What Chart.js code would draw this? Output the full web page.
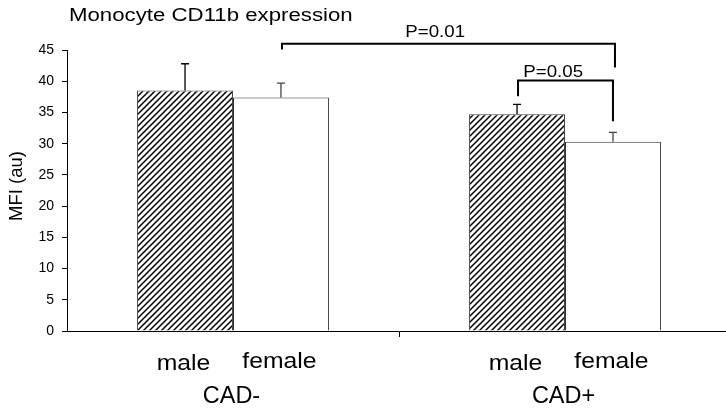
<!DOCTYPE html>
<html>
<head>
<meta charset="utf-8">
<script src="https://cdn.jsdelivr.net/npm/chart.js@4.4.1/dist/chart.umd.min.js"></script>
<style>
  html, body { margin: 0; padding: 0; background: #fff; overflow: hidden; }
  #wrap { position: relative; width: 731px; height: 411px; }
</style>
</head>
<body>
<div id="wrap"><canvas id="c"></canvas></div>
<script>
// ---- data ----
const categories = ['CAD-', 'CAD+'];
const seriesNames = ['male', 'female'];
const maleValues = [38.5, 34.7];
const femaleValues = [37.4, 30.3];
const maleErrors = [4.3, 1.6];
const femaleErrors = [2.3, 1.5];
const yTickValues = [0, 5, 10, 15, 20, 25, 30, 35, 40, 45];
const chartTitle = 'Monocyte CD11b expression';
const yAxisTitle = 'MFI (au)';
// significance brackets: [datasetIndex, categoryIndex] endpoints and heights (in data units)
const bracketLabels = ['P=0.01', 'P=0.05'];
const bracketFrom = [[1, 0], [0, 1]];
const bracketTo = [[1, 1], [1, 1]];
const bracketTopValues = [46.0, 40.1];
const bracketLeftEndValues = [45.1, 37.6];
const bracketRightEndValues = [42.2, 33.6];

const FONT = '"Liberation Sans", Arial, sans-serif';

// hatch pattern
function makeHatch() {
  const s = 6;
  const c = document.createElement('canvas');
  c.width = s; c.height = s;
  const g = c.getContext('2d');
  g.fillStyle = '#fff';
  g.fillRect(0, 0, s, s);
  g.strokeStyle = '#000';
  g.lineWidth = 1.5;
  g.beginPath();
  g.moveTo(0, s); g.lineTo(s, 0);
  g.moveTo(-1, 1); g.lineTo(1, -1);
  g.moveTo(s - 1, s + 1); g.lineTo(s + 1, s - 1);
  g.stroke();
  return g.createPattern(c, 'repeat');
}
const hatch = makeHatch();

function stretchedText(ctx, text, x, y, size, sx, align) {
  ctx.save();
  ctx.font = size + 'px ' + FONT;
  ctx.fillStyle = '#000';
  ctx.textBaseline = 'alphabetic';
  const w = ctx.measureText(text).width * sx;
  let left = x;
  if (align === 'center') left = x - w / 2;
  else if (align === 'right') left = x - w;
  ctx.translate(left, y);
  ctx.scale(sx, 1);
  ctx.textAlign = 'left';
  ctx.fillText(text, 0, 0);
  ctx.restore();
}

const errorsByDataset = [maleErrors, femaleErrors];
const errorColors = ['#000', '#444'];

const decorPlugin = {
  id: 'decor',
  afterDatasetsDraw(chart) {
    const ctx = chart.ctx;
    const y = chart.scales.y;
    const x = chart.scales.x;
    // error bars
    chart.data.datasets.forEach((ds, di) => {
      const meta = chart.getDatasetMeta(di);
      meta.data.forEach((bar, j) => {
        const v = ds.data[j];
        const top = y.getPixelForValue(v + errorsByDataset[di][j]);
        const base = y.getPixelForValue(v);
        ctx.save();
        ctx.strokeStyle = errorColors[di];
        ctx.lineWidth = 1.3;
        ctx.beginPath();
        ctx.moveTo(bar.x, base);
        ctx.lineTo(bar.x, top);
        ctx.moveTo(bar.x - 4, top);
        ctx.lineTo(bar.x + 4, top);
        ctx.stroke();
        ctx.restore();
      });
    });
    // brackets
    bracketLabels.forEach((lab, k) => {
      const a = chart.getDatasetMeta(bracketFrom[k][0]).data[bracketFrom[k][1]];
      const b = chart.getDatasetMeta(bracketTo[k][0]).data[bracketTo[k][1]];
      const xa = a.x + 1, xb = b.x + (k === 0 ? 2 : 0);
      const yt = y.getPixelForValue(bracketTopValues[k]);
      const yl = y.getPixelForValue(bracketLeftEndValues[k]);
      const yr = y.getPixelForValue(bracketRightEndValues[k]);
      ctx.save();
      ctx.strokeStyle = '#000';
      ctx.lineWidth = 2;
      ctx.beginPath();
      ctx.moveTo(xa, yl);
      ctx.lineTo(xa, yt);
      ctx.lineTo(xb, yt);
      ctx.lineTo(xb, yr);
      ctx.stroke();
      ctx.restore();
      const frac = k === 0 ? 0.46 : 0.37;
      const off = k === 0 ? 6.3 : 3.4;
      stretchedText(ctx, lab, xa + (xb - xa) * frac, yt - off, 17, 1.1, 'center');
    });
    // title
    stretchedText(ctx, chartTitle, chart.chartArea.left + 2, 20.7, 17.5, 1.27, 'left');
    // y axis title
    ctx.save();
    ctx.translate(17, 186);
    ctx.rotate(-Math.PI / 2);
    ctx.font = '18.5px ' + FONT;
    ctx.fillStyle = '#000';
    ctx.textAlign = 'center';
    ctx.textBaseline = 'middle';
    ctx.fillText(yAxisTitle, 0, 0);
    ctx.restore();
    // x labels
    chart.data.datasets.forEach((ds, di) => {
      const meta = chart.getDatasetMeta(di);
      meta.data.forEach((bar, j) => {
        stretchedText(ctx, seriesNames[di], bar.x - 1.5, di === 0 ? 370 : 368.3, 21.5, 1.15, 'center');
      });
    });
    categories.forEach((c, j) => {
      stretchedText(ctx, c, x.getPixelForValue(j) - 1.5, 403.3, 23, 1.02, 'center');
    });
  }
};

new Chart(document.getElementById('c'), {
  type: 'bar',
  data: {
    labels: categories,
    datasets: [
      { label: seriesNames[0], data: maleValues, backgroundColor: hatch, borderColor: '#444', borderWidth: 1 },
      { label: seriesNames[1], data: femaleValues, backgroundColor: '#fff', borderColor: '#333', borderWidth: 1 }
    ]
  },
  options: {
    responsive: true,
    maintainAspectRatio: false,
    animation: false,
    devicePixelRatio: 1,
    layout: { padding: { top: 50, right: 0, left: 0, bottom: 0 } },
    datasets: { bar: { categoryPercentage: 0.578, barPercentage: 1.0 } },
    plugins: { legend: { display: false }, title: { display: false }, tooltip: { enabled: false } },
    scales: {
      x: {
        offset: true,
        grid: {
          offset: true,
          drawOnChartArea: false,
          drawTicks: true,
          tickLength: 6,
          color: (ctx) => (ctx.index === 1 ? '#000' : 'rgba(0,0,0,0)')
        },
        border: { display: true, color: '#000', width: 1 },
        ticks: { display: false },
        afterFit(scale) { scale.height = 80; }
      },
      y: {
        min: 0,
        max: 45,
        afterBuildTicks(scale) { scale.ticks = yTickValues.map(v => ({ value: v })); },
        grid: { drawOnChartArea: false, drawTicks: true, tickLength: 5, color: '#000' },
        border: { display: true, color: '#000', width: 1 },
        ticks: { color: '#000', padding: 8, font: { family: FONT, size: 14 } },
        afterFit(scale) { scale.width = 67; }
      }
    }
  },
  plugins: [decorPlugin]
});
</script>
</body>
</html>
